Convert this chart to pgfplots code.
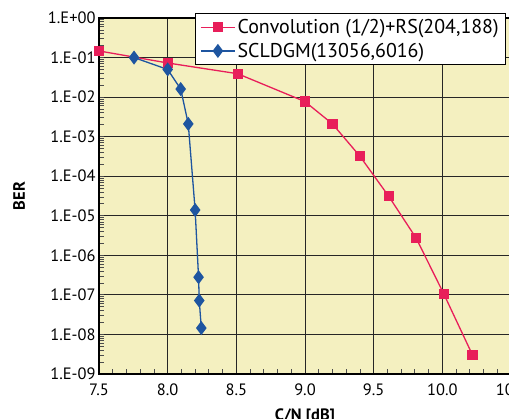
\documentclass[border=0pt]{standalone}
\usepackage{pgfplots}
\pgfplotsset{compat=1.18}
\usepackage{fontspec}
\setmainfont{PT Sans}
\definecolor{bgyel}{RGB}{244,240,192}
\definecolor{convred}{RGB}{232,30,90}
\definecolor{ldgmblue}{RGB}{30,85,160}
\begin{document}
\begin{tikzpicture}
\begin{axis}[
    scale only axis,
    width=412bp, height=356bp,
    xmin=7.5, xmax=10.5,
    ymode=log,
    ymin=1e-9, ymax=1,
    xtick={7.5,8.0,...,10.5},
    minor x tick num=4,
    xticklabel style={yshift=-6bp,
        /pgf/number format/fixed,
        /pgf/number format/fixed zerofill,
        /pgf/number format/precision=1},
    ytick={1e-9,1e-8,1e-7,1e-6,1e-5,1e-4,1e-3,1e-2,1e-1,1},
    yticklabels={1.E-09,1.E-08,1.E-07,1.E-06,1.E-05,1.E-04,1.E-03,1.E-02,1.E-01,1.E+00},
    /pgf/number format/assume math mode=true,
    tick label style={font=\fontsize{16.5}{18}\selectfont},
    tick pos=left,
    tick align=inside,
    major tick length=0pt,
    minor tick length=5bp,
    minor tick style={black!70, line width=0.8bp},
    grid=major,
    major grid style={black!85, line width=0.9bp},
    axis line style={black, line width=1.2bp},
    axis background/.style={fill=bgyel},
    xlabel={\bfseries C/N [dB]},
    ylabel={\bfseries BER},
    label style={font=\fontsize{16.5}{18}\selectfont},
    xlabel style={yshift=-6bp},
    ylabel style={yshift=16bp},
    legend style={at={(0.988,1.014)}, anchor=north east,
        font=\fontsize{20}{22}\selectfont, draw=black, line width=0.8bp,
        fill=white, row sep=4bp, inner xsep=5bp, inner ysep=4bp},
    legend cell align=left,
    legend image code/.code={
        \draw[mark repeat=2, mark phase=2, line width=1.3bp, #1]
            plot coordinates {(0bp,0bp) (17bp,0bp) (34bp,0bp)};
    },
]
\coordinate (sw) at (rel axis cs:0,0);
\coordinate (ne) at (rel axis cs:1,1);
\addplot[color=convred, line width=1.3bp, mark=square*, mark size=4.5bp]
    coordinates {
    (7.5,0.147)(8.0,0.073)(8.51,0.039)(9.0,0.0077)(9.2,0.0021)(9.4,3.2e-4)
    (9.61,3.1e-5)(9.81,2.7e-6)(10.01,1.07e-7)(10.22,3.0e-9)
    };
\addplot[color=ldgmblue, line width=1.3bp, mark=diamond*, mark size=6bp]
    coordinates {
    (7.755,0.1)(8.0,0.05)(8.095,0.016)(8.15,0.0021)(8.2,1.4e-5)
    (8.225,2.8e-7)(8.23,7.2e-8)(8.245,1.45e-8)
    };
\legend{{Convolution (1/2)+RS(204,188)}, {SCLDGM(13056,6016)}}
\end{axis}
\pgfresetboundingbox
\path ([shift={(-99bp,-45bp)}]sw) rectangle ([shift={(-2bp,18bp)}]ne);
\end{tikzpicture}
\end{document}
